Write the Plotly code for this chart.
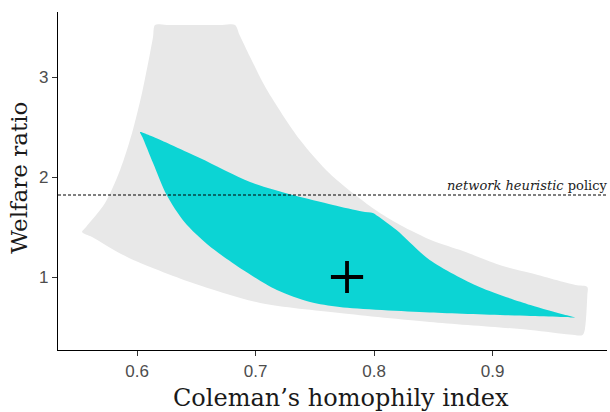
import plotly.graph_objects as go

# Outer (grey) region boundary, clockwise from top-left
gray_x = [0.6152, 0.625, 0.672, 0.6827, 0.6865, 0.6954, 0.7097, 0.7376, 0.763, 0.800, 0.822, 0.850,
          0.875, 0.906, 0.932, 0.970, 0.980, 0.980, 0.978, 0.976, 0.965, 0.932, 0.847, 0.771,
          0.704, 0.647, 0.5916, 0.562, 0.5536, 0.557, 0.573, 0.5857, 0.5958, 0.6042, 0.611, 0.6135]
gray_y = [3.52, 3.52, 3.52, 3.52, 3.42, 3.20, 2.87, 2.37, 2.03, 1.68, 1.52, 1.36,
          1.26, 1.12, 1.04, 0.92, 0.90, 0.82, 0.48, 0.42, 0.425, 0.47, 0.55, 0.64,
          0.74, 0.94, 1.20, 1.40, 1.45, 1.50, 1.74, 2.07, 2.44, 2.84, 3.24, 3.40]

# Inner (teal) region boundary, clockwise from the top-left tip
teal_x = [0.6025, 0.612, 0.653, 0.6954, 0.7316, 0.7654, 0.790, 0.799, 0.803, 0.819, 0.847, 0.889,
          0.932, 0.960, 0.9696, 0.960, 0.932, 0.847, 0.771, 0.746, 0.718, 0.6895, 0.660, 0.640,
          0.625, 0.6135, 0.6045]
teal_y = [2.45, 2.41, 2.19, 1.95, 1.82, 1.72, 1.655, 1.64, 1.61, 1.47, 1.17, 0.90,
          0.72, 0.625, 0.595, 0.60, 0.61, 0.645, 0.70, 0.75, 0.87, 1.07, 1.32, 1.55,
          1.82, 2.14, 2.40]

policy_y = 1.82
marker_x = [0.7772]
marker_y = [1.0]

x_ticks = [0.6, 0.7, 0.8, 0.9]
y_ticks = [1, 2, 3]

fig = go.Figure()
fig.add_trace(go.Scatter(x=gray_x + [gray_x[0]], y=gray_y + [gray_y[0]], fill="toself",
                         fillcolor="#e8e8e8", line=dict(width=0, shape="spline", smoothing=0.8),
                         mode="lines", hoverinfo="skip", showlegend=False))
fig.add_trace(go.Scatter(x=teal_x + [teal_x[0]], y=teal_y + [teal_y[0]], fill="toself",
                         fillcolor="#0cd4d4", line=dict(width=0, shape="spline", smoothing=0.8),
                         mode="lines", hoverinfo="skip", showlegend=False))
fig.add_trace(go.Scatter(x=marker_x, y=marker_y, mode="markers",
                         marker=dict(symbol="cross-thin", size=23,
                                     line=dict(width=3.8, color="black")),
                         showlegend=False))

fig.add_shape(type="line", xref="paper", x0=0, x1=1, yref="y", y0=policy_y, y1=policy_y,
              line=dict(color="black", width=1, dash="3px,2px"))
fig.add_annotation(xref="paper", x=1.0, yref="y", y=policy_y, xanchor="right", xshift=3,
                   yanchor="bottom", showarrow=False,
                   text="<i>network heuristic</i> policy",
                   font=dict(family="DejaVu Serif", size=13, color="#222222"))

fig.add_annotation(xref="paper", yref="paper", x=0.515, y=-0.141, xanchor="center",
                   yanchor="middle", showarrow=False, text="Coleman\u2019s homophily index",
                   font=dict(family="DejaVu Serif", size=24, color="#1a1a1a"))
fig.add_annotation(xref="paper", yref="paper", x=-0.071, y=0.51, xanchor="center",
                   yanchor="middle", showarrow=False, text="Welfare ratio", textangle=-90,
                   font=dict(family="DejaVu Serif", size=23, color="#1a1a1a"))

tickfont = dict(family="Liberation Sans, Arial", size=17, color="#4d4d4d")
fig.update_xaxes(range=[0.5333, 0.9966], tickvals=x_ticks, ticktext=[f"{v:.1f}" for v in x_ticks],
                 showgrid=False, zeroline=False, showline=True, linecolor="black", linewidth=1.3,
                 ticks="outside", ticklen=5, tickcolor="#333333", tickfont=tickfont,
                 automargin=False)
fig.update_yaxes(range=[0.27, 3.65], tickvals=y_ticks, ticktext=[str(v) for v in y_ticks],
                 showgrid=False, zeroline=False, showline=True, linecolor="black", linewidth=1.3,
                 ticks="outside", ticklen=5, tickcolor="#333333", tickfont=tickfont,
                 automargin=False)
fig.update_layout(width=610, height=412, margin=dict(l=58, r=3, t=12, b=62, autoexpand=False),
                  plot_bgcolor="white", paper_bgcolor="white")
fig.write_html("out.html", config={"displayModeBar": False},
               post_script="document.body.style.margin='0';")
